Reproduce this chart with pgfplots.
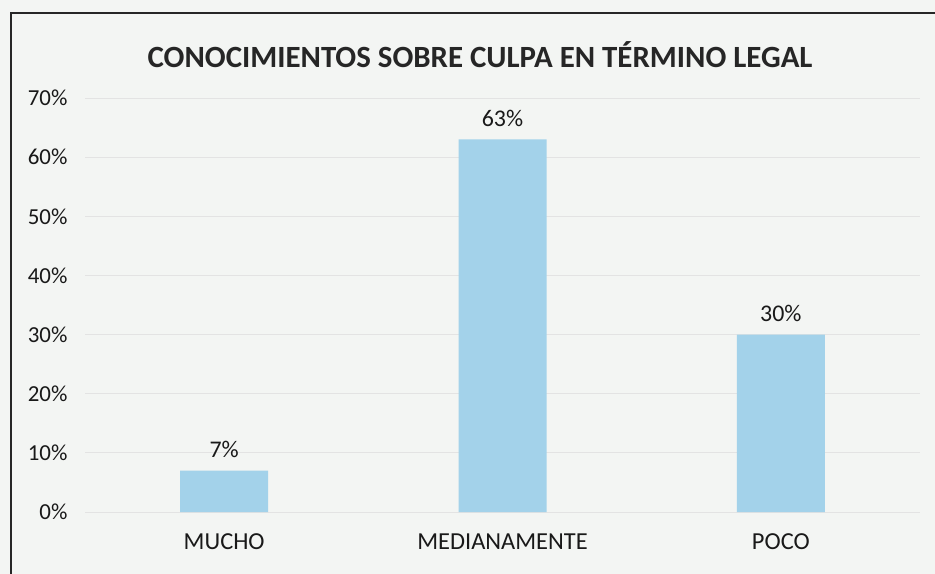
\documentclass[border=0pt]{standalone}
\usepackage{pgfplots}
\pgfplotsset{compat=1.18}
\usepackage{fontspec}
\setmainfont{Carlito}
\definecolor{barblue}{RGB}{163,210,234}
\definecolor{paper}{RGB}{243,245,243}
\begin{document}
\begin{tikzpicture}
\useasboundingbox (-85bp,-62bp) rectangle (850bp,512bp);
\fill[paper] (-85bp,-62bp) rectangle (850bp,512bp);
\begin{axis}[
  at={(0,0)}, anchor=south west,
  scale only axis,
  width=835bp, height=414bp,
  xmin=-0.5, xmax=2.5,
  ymin=0, ymax=70,
  xtick={0,1,2},
  xticklabels={MUCHO,MEDIANAMENTE,POCO},
  ytick={0,10,...,70},
  yticklabel={\pgfmathprintnumber{\tick}\%},
  /pgf/number format/assume math mode=true,
  ymajorgrids,
  grid style={draw=gray!22, line width=0.8pt},
  axis line style={draw=none},
  major tick length=0pt,
  tick label style={font=\fontsize{23}{26}\selectfont, text=black!90},
  yticklabel style={xshift=-14bp},
  xticklabel style={yshift=-18bp, font=\fontsize{24.5}{28}\selectfont},
  nodes near coords={\pgfmathprintnumber{\pgfplotspointmeta}\%},
  nodes near coords style={font=\fontsize{24}{27}\selectfont, text=black!90, anchor=south, yshift=9bp},
  clip=false,
]
\addplot[ybar, bar width=88bp, fill=barblue, draw=none] coordinates {(0,7) (1,63) (2,30)};
\end{axis}
\node[font=\bfseries\fontsize{31}{36}\selectfont, text=black!85] at (395bp,457bp) {CONOCIMIENTOS SOBRE CULPA EN TÉRMINO LEGAL};
\draw[line width=1.3pt, black!85] (-74bp,-62bp) -- (-74bp,499bp) -- (850bp,499bp);
\end{tikzpicture}
\end{document}
